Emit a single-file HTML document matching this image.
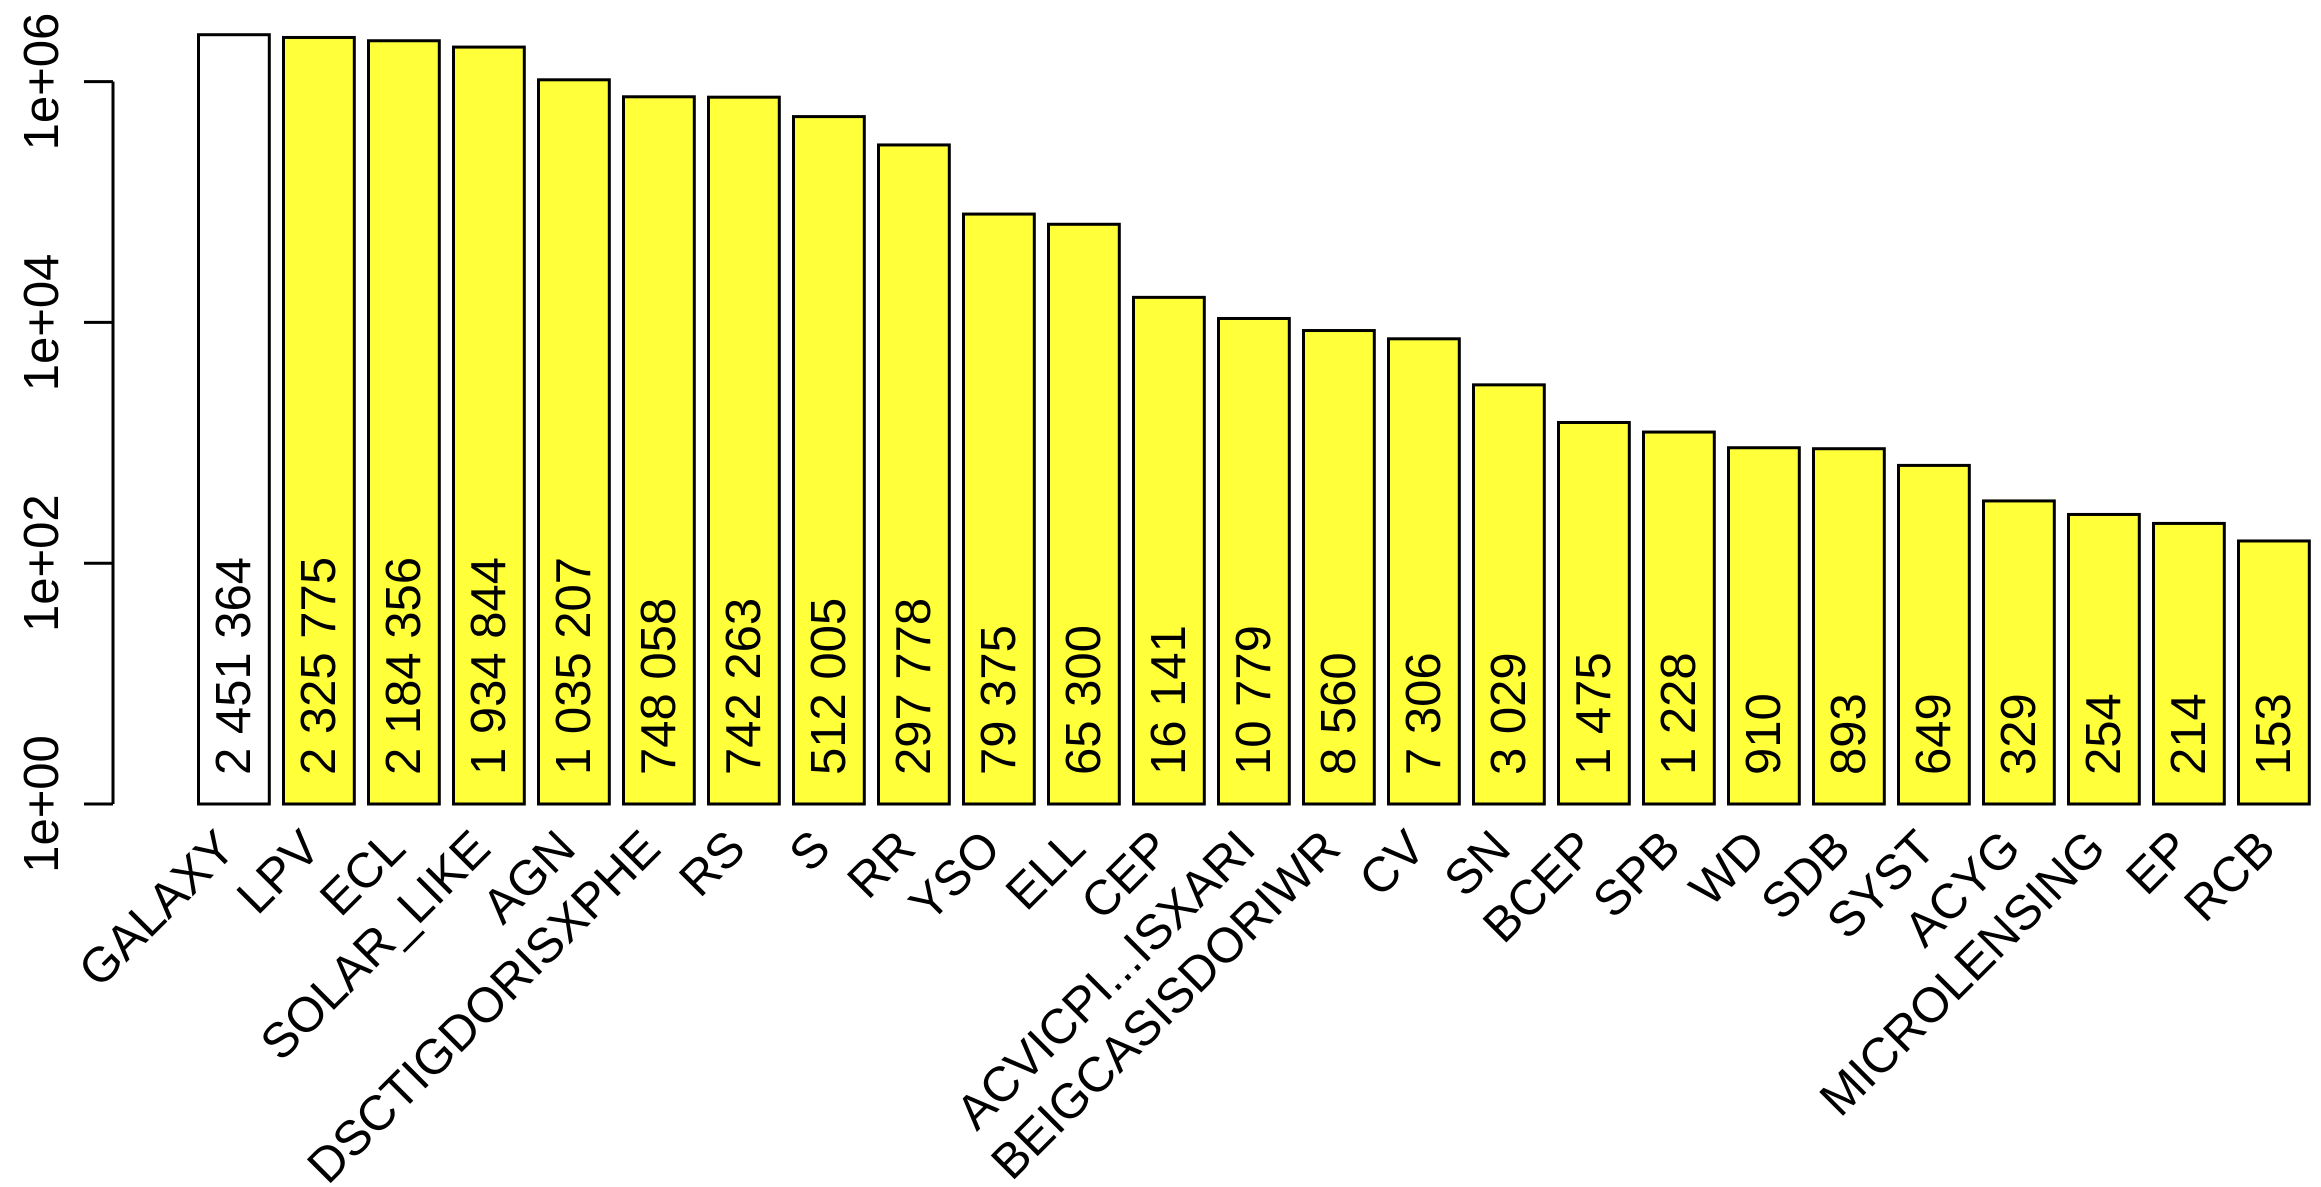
<!DOCTYPE html>
<html><head><meta charset="utf-8"><style>body{margin:0;background:#fff}svg{display:block}text{font-family:"Liberation Sans",Arial,sans-serif;font-size:49px;fill:#000}</style></head>
<body>
<svg id="chart" width="2321" height="1187" viewBox="0 0 2321 1187" xmlns="http://www.w3.org/2000/svg"></svg>
<script>
const categories = ["GALAXY","LPV","ECL","SOLAR_LIKE","AGN","DSCTIGDORISXPHE","RS","S","RR","YSO","ELL","CEP","ACVICPI...ISXARI","BEIGCASISDORIWR","CV","SN","BCEP","SPB","WD","SDB","SYST","ACYG","MICROLENSING","EP","RCB"];
const counts = [2451364,2325775,2184356,1934844,1035207,748058,742263,512005,297778,79375,65300,16141,10779,8560,7306,3029,1475,1228,910,893,649,329,254,214,153];
const countLabels = ["2 451 364","2 325 775","2 184 356","1 934 844","1 035 207","748 058","742 263","512 005","297 778","79 375","65 300","16 141","10 779","8 560","7 306","3 029","1 475","1 228","910","893","649","329","254","214","153"];
const yTickValues = [1,100,10000,1000000];
const yTickLabels = ["1e+00","1e+02","1e+04","1e+06"];

const NS="http://www.w3.org/2000/svg";
const svg=document.getElementById('chart');
const y0=804, pxPerDecade=120.4;
function yScale(v){return y0-Math.log10(v)*pxPerDecade;}
const step=85.0, bw=70.8, x0=198.5;
function xLeft(i){return x0+i*step;}
function mk(tag,attrs){const e=document.createElementNS(NS,tag);for(const k in attrs)e.setAttribute(k,attrs[k]);svg.appendChild(e);return e;}

// y axis
const ax=mk('line',{x1:113,x2:113,y1:yScale(1),y2:yScale(1e6),stroke:'#000','stroke-width':3});


yTickValues.forEach((v,i)=>{
  const t=mk('line',{x1:84,x2:113,y1:yScale(v),y2:yScale(v),stroke:'#000','stroke-width':3});
  
  
  const y=yScale(v);
  const l=mk('text',{x:0,y:0,'text-anchor':'middle',transform:`translate(42,${y}) rotate(-90)`,'dominant-baseline':'central'});
  l.textContent=yTickLabels[i];
  
  
});

categories.forEach((c,i)=>{
  const x=xLeft(i), top=yScale(counts[i]);
  const r=mk('rect',{x:x,y:top,width:bw,height:y0-top,fill:i===0?'#ffffff':'#ffff3a',stroke:'#000','stroke-width':3});
  
  
  const cx=x+bw/2;
  const v=mk('text',{x:0,y:0,'text-anchor':'start','dominant-baseline':'central',transform:`translate(${cx},775) rotate(-90)`});
  v.textContent=countLabels[i];
  
  
  const l=mk('text',{x:0,y:0,'text-anchor':'end',transform:`translate(${cx+4},851) rotate(-45)`});
  l.textContent=c;
  
  
});
</script>
</body></html>
